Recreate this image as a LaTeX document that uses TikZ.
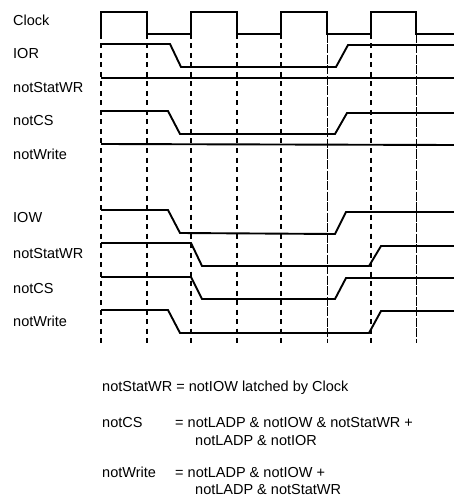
\documentclass[tikz,border=0pt]{standalone}
\usepackage{fontspec}
\setmainfont{Liberation Sans}
\begin{document}
\begin{tikzpicture}[x=1pt,y=-1pt,
  sig/.style={line width=1.9pt,line join=miter},
  grid/.style={line width=1.2pt,dash pattern=on 5pt off 4.5pt},
  thingrid/.style={line width=0.6pt,dash pattern=on 9pt off 1.5pt},
  lbl/.style={anchor=base west,inner sep=0pt,font=\fontsize{14.5}{16}\selectfont}]
\useasboundingbox (0,0) rectangle (454,497);
% vertical guides
\foreach \x in {101,147,191,237,281,371}
  \draw[grid] (\x,34) -- (\x,343);
\foreach \x in {327,416}
  \draw[thingrid] (\x,34) -- (\x,343);
% labels
\node[lbl] (lclk) at (13,26) {Clock};
\node[lbl] (lior) at (13,59) {IOR};
\node[lbl] (lsw1) at (13,93) {notStatWR};
\node[lbl] (lcs1) at (13,126) {notCS};
\node[lbl] (lwr1) at (13,159) {notWrite};
\node[lbl] (liow) at (13,222) {IOW};
\node[lbl] (lsw2) at (13,258) {notStatWR};
\node[lbl] (lcs2) at (13,293) {notCS};
\node[lbl] (lwr2) at (13,326) {notWrite};
% waveforms
\draw[sig] (101,34) -- (101,12) -- (147,12) -- (147,34) -- (191,34) -- (191,12)
  -- (237,12) -- (237,34) -- (281,34) -- (281,12) -- (327,12) -- (327,34)
  -- (371,34) -- (371,12) -- (416,12) -- (416,34) -- (454,34);
\draw[sig] (101,44) -- (170,44) -- (181,67) -- (336,67) -- (348,45) -- (454,45);
\draw[sig] (101,78) -- (454,78);
\draw[sig] (101,111) -- (168,111) -- (180,134) -- (335,134) -- (347,113) -- (454,113);
\draw[sig] (101,144) -- (454,145);
\draw[sig] (101,210) -- (168,210) -- (180,233) -- (335,234) -- (346,212) -- (454,212);
\draw[sig] (101,243) -- (191,243) -- (202,266) -- (369,266) -- (381,246) -- (454,246);
\draw[sig] (101,277) -- (191,277) -- (202,299) -- (335,299) -- (346,278) -- (454,278);
\draw[sig] (101,310) -- (168,310) -- (180,333) -- (369,333) -- (381,311) -- (454,311);
% equations
\node[lbl] (eq1) at (102,391) {notStatWR = notIOW latched by Clock};
\node[lbl] (eq2a) at (102,427) {notCS};
\node[lbl] (eq2b) at (175,427) {= notLADP \& notIOW \& notStatWR +};
\node[lbl] (eq2c) at (195,445) {notLADP \& notIOR};
\node[lbl] (eq3a) at (102,477) {notWrite};
\node[lbl] (eq3b) at (175,477) {= notLADP \& notIOW +};
\node[lbl] (eq3c) at (195,494) {notLADP \& notStatWR};
\end{tikzpicture}
\end{document}
